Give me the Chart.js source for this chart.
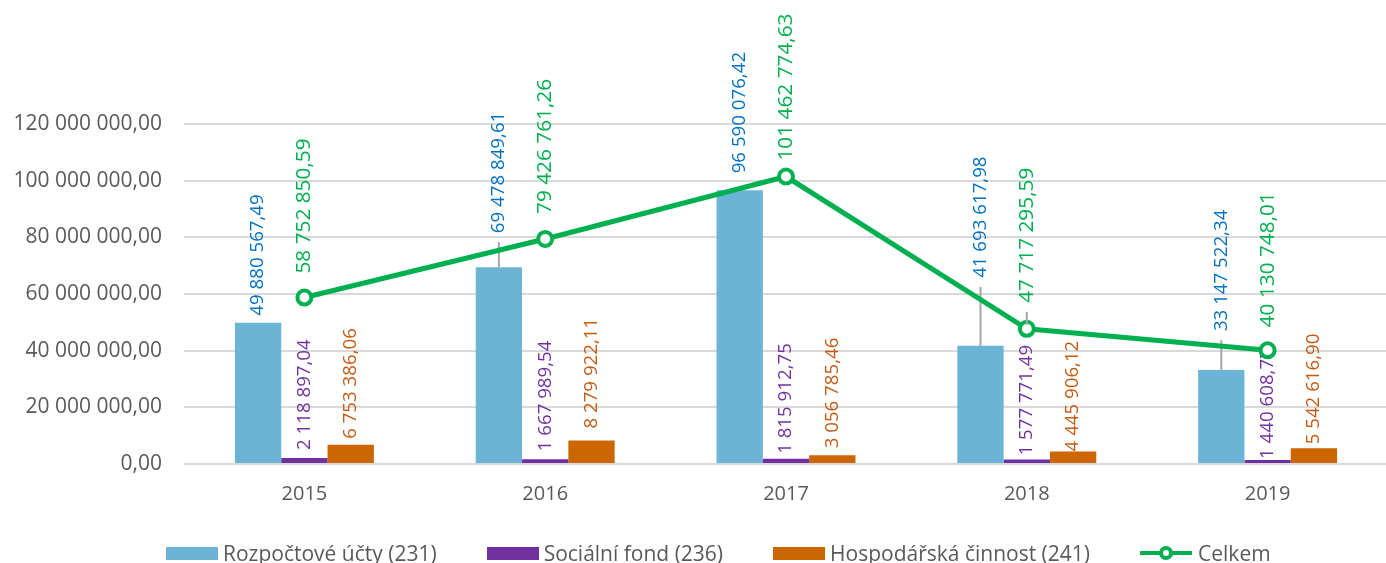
<!DOCTYPE html>
<html lang="cs">
<head>
<meta charset="utf-8">
<title>Rozpočtové účty</title>
<script src="https://cdn.jsdelivr.net/npm/chart.js@4/dist/chart.umd.min.js"></script>
<style>
    html, body { margin: 0; padding: 0; background: #fff; overflow: hidden; }
    #wrap { position: relative; width: 1399px; height: 563px; }
    #legend {
        position: absolute; left: 166px; top: 540px; height: 26px;
        display: flex; align-items: center;
        font-family: "Open Sans", sans-serif; font-size: 21px; color: #595959;
    }
    .legend-item { display: flex; align-items: center; margin-right: 50px; white-space: nowrap; }
    .legend-color { display: inline-block; width: 52px; height: 13px; margin-right: 5px; }
    .legend-line { position: relative; display: inline-block; width: 52px; height: 16px; margin-right: 6px; }
    .legend-line::before {
        content: ""; position: absolute; left: 0; right: 0; top: 6px; height: 4px; background: #00B050;
    }
    .legend-line::after {
        content: ""; position: absolute; left: 19px; top: 1px; width: 6px; height: 6px;
        border: 4px solid #00B050; border-radius: 50%; background: #fff;
    }
</style>
</head>
<body>
<div id="wrap">
    <canvas id="chart"></canvas>
    <div id="legend"></div>
</div>
<script>
const years = ['2015', '2016', '2017', '2018', '2019'];
const rozpoctoveUcty = [49880567.49, 69478849.61, 96590076.42, 41693617.98, 33147522.34];
const socialniFond = [2118897.04, 1667989.54, 1815912.75, 1577771.49, 1440608.77];
const hospodarskaCinnost = [6753386.06, 8279922.11, 3056785.46, 4445906.12, 5542616.90];
const celkem = [58752850.59, 79426761.26, 101462774.63, 47717295.59, 40130748.01];
const yTicks = [0, 20000000, 40000000, 60000000, 80000000, 100000000, 120000000];

const seriesNames = ['Rozpočtové účty (231)', 'Sociální fond (236)', 'Hospodářská činnost (241)', 'Celkem'];

// odsazení popisků (px nad sloupcem / bodem) a vodicí čáry
const labelGap = [
    [7, 34, 17, 68, 39],
    [8, 8, 5, 4, 1],
    [6, 12, 7, 0, 4],
    [24, 25, 16, 26, 23]
];
const leaderLine = [
    [false, true, false, true, true],
    [false, false, false, false, false],
    [false, false, false, false, false],
    [false, false, false, true, false]
];
const labelColors = ['#0070C0', '#7030A0', '#C55A11', '#00B050'];
const labelSizes = [18.7, 18.7, 18.7, 20.8];

function fmt(v) {
    const parts = v.toFixed(2).split('.');
    return parts[0].replace(/\B(?=(\d{3})+(?!\d))/g, ' ') + ',' + parts[1];
}

const valueLabels = {
    id: 'valueLabels',
    afterDatasetDraw(chart, args) {
        const i = args.index;
        const ctx = chart.ctx;
        args.meta.data.forEach(function(el, j) {
            const value = chart.data.datasets[i].data[j];
            const bottom = el.y - labelGap[i][j];
            if (leaderLine[i][j]) {
                ctx.save();
                ctx.strokeStyle = '#A6A6A6';
                ctx.lineWidth = 2;
                ctx.beginPath();
                ctx.moveTo(el.x, i === 3 ? el.y - 4 : el.y);
                ctx.lineTo(el.x, bottom + 9);
                ctx.stroke();
                ctx.restore();
            }
            ctx.save();
            ctx.translate(el.x, bottom);
            ctx.rotate(-Math.PI / 2);
            ctx.font = labelSizes[i] + 'px "Open Sans"';
            ctx.fillStyle = labelColors[i];
            ctx.textAlign = 'left';
            ctx.textBaseline = 'middle';
            ctx.fillText(fmt(value), 0, 0);
            ctx.restore();
        });
    }
};

Chart.defaults.font.family = '"Open Sans", sans-serif';
Chart.defaults.color = '#595959';

new Chart(document.getElementById('chart').getContext('2d'), {
    type: 'bar',
    data: {
        labels: years,
        datasets: [
            { label: seriesNames[0], data: rozpoctoveUcty, backgroundColor: '#6CB4D6', order: 1 },
            { label: seriesNames[1], data: socialniFond, backgroundColor: '#7030A0', order: 1 },
            { label: seriesNames[2], data: hospodarskaCinnost, backgroundColor: '#CC6600', order: 1 },
            {
                type: 'line', label: seriesNames[3], data: celkem, order: 0,
                borderColor: '#00B050', borderWidth: 5, backgroundColor: '#fff',
                pointRadius: 7, pointBorderWidth: 4, pointBackgroundColor: '#fff',
                pointBorderColor: '#00B050', tension: 0
            }
        ]
    },
    options: {
        responsive: true,
        maintainAspectRatio: false,
        animation: false,
        layout: { padding: { top: 124, bottom: 47, left: 0, right: 0 } },
        datasets: { bar: { barPercentage: 1, categoryPercentage: 0.577 } },
        plugins: {
            legend: { display: false },
            tooltip: { enabled: false }
        },
        scales: {
            x: {
                grid: { display: false },
                border: { display: false },
                ticks: { font: { size: 20 }, padding: 10, color: '#595959' }
            },
            y: {
                min: 0,
                max: 120000000,
                afterFit: function(scale) { scale.width = 184; },
                afterBuildTicks: function(scale) { scale.ticks = yTicks.map(v => ({ value: v })); },
                grid: { color: '#D9D9D9', lineWidth: 2, drawTicks: false },
                border: { display: false },
                ticks: { font: { size: 21 }, padding: 22, color: '#595959', callback: v => fmt(v) }
            }
        }
    },
    plugins: [valueLabels]
});

document.getElementById('legend').innerHTML = `
    <div class="legend-item"><span class="legend-color" style="background-color: #6CB4D6;"></span><span>${seriesNames[0]}</span></div>
    <div class="legend-item"><span class="legend-color" style="background-color: #7030A0;"></span><span>${seriesNames[1]}</span></div>
    <div class="legend-item"><span class="legend-color" style="background-color: #CC6600;"></span><span>${seriesNames[2]}</span></div>
    <div class="legend-item"><span class="legend-line"></span><span>${seriesNames[3]}</span></div>
`;
</script>
</body>
</html>
